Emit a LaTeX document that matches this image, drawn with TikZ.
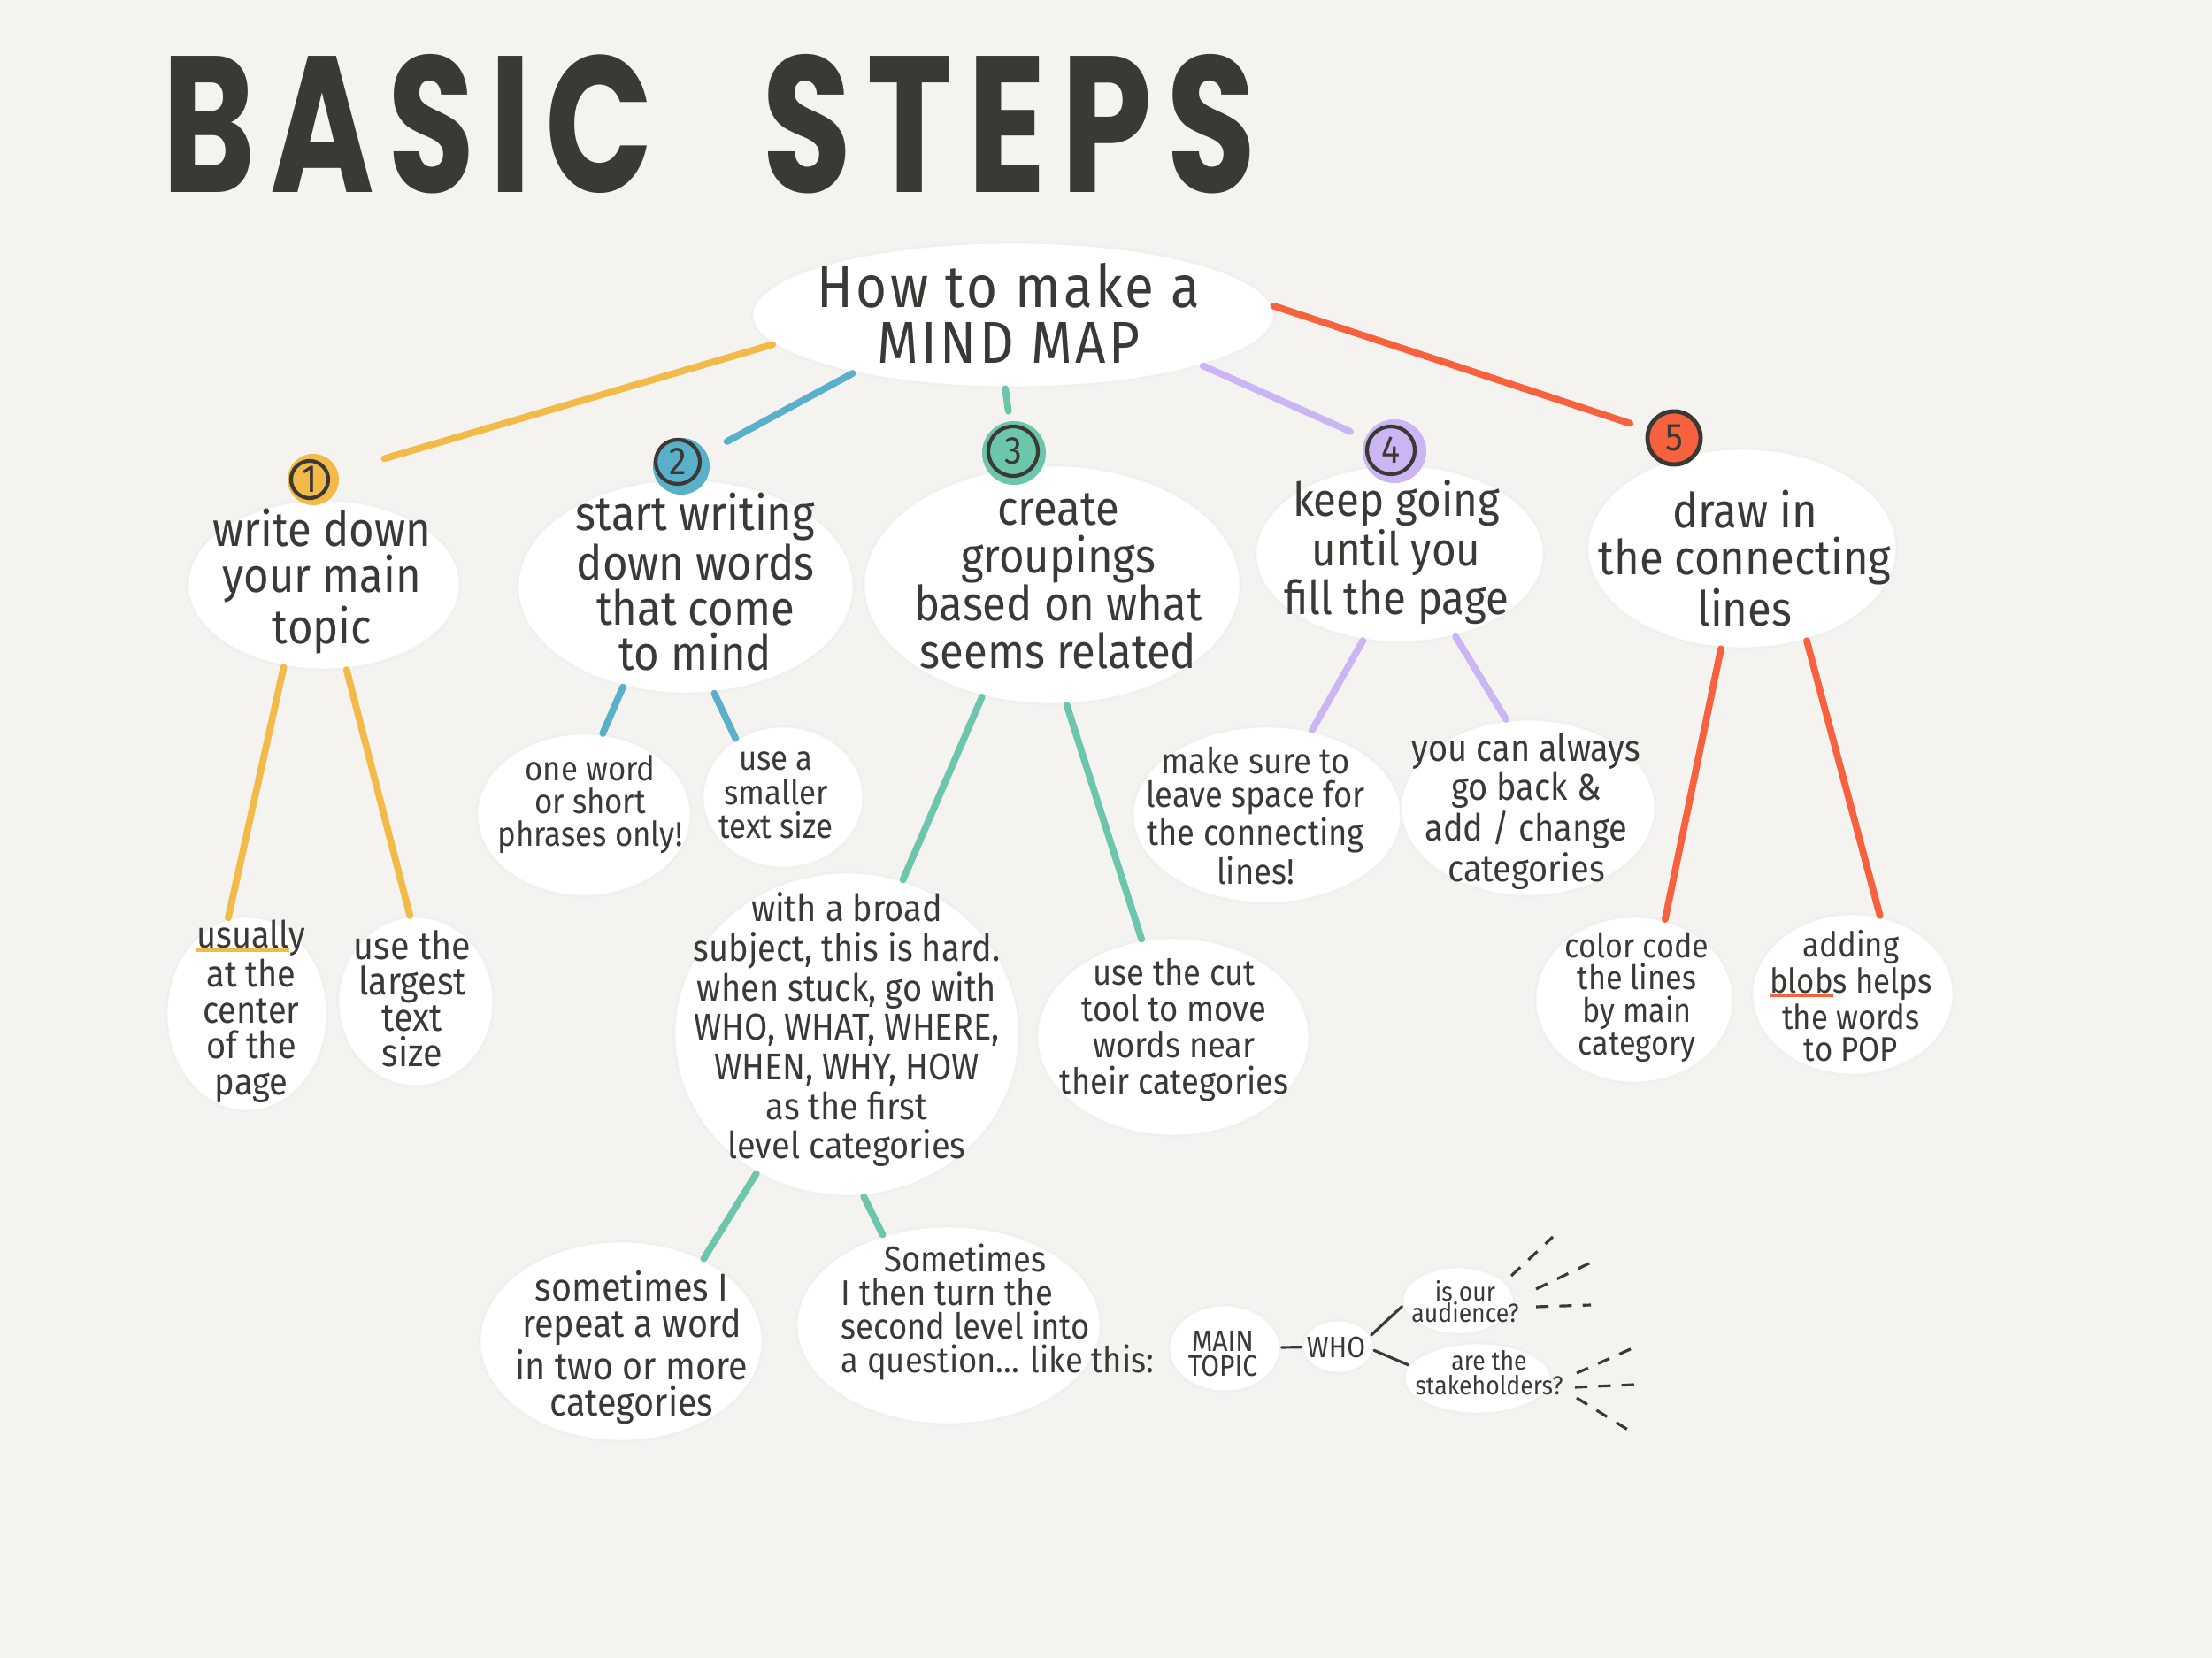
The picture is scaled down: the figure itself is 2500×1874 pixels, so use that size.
\documentclass[tikz,border=0pt]{standalone}
\usepackage{graphicx}
\usepackage{fontspec}
\setmainfont{Fira Sans}[FakeStretch=0.9]
\newfontfamily\titlefont{Poppins}[LetterSpace=10]
\newfontfamily\mainfont{Fira Sans}[FakeStretch=0.9, LetterSpace=5]
\usetikzlibrary{shapes.geometric}
\definecolor{bg}{HTML}{F4F3F0}
\definecolor{ink}{HTML}{3A3935}
\definecolor{cyel}{HTML}{F2BA48}
\definecolor{cblue}{HTML}{5AAFC9}
\definecolor{cteal}{HTML}{6CC6AC}
\definecolor{clav}{HTML}{CBB5F3}
\definecolor{cred}{HTML}{F8613D}
\newcommand\ulword[2]{\setbox0\hbox{#2}\rlap{\textcolor{#1}{\rule[-1.3pt]{\wd0}{1.2pt}}}\box0}
\newcommand\fs[2]{\fontsize{#1}{#2}\selectfont}
\tikzset{
  blob/.style={ellipse, fill=white, draw=black!6, line width=0.8pt, inner sep=0pt},
  txt/.style={align=center, text=ink, inner sep=0pt},
  conn/.style={line width=2.2pt, line cap=round},
  dot/.style={circle, inner sep=0pt},
  ring/.style={circle, draw=ink, line width=1.2pt, inner sep=0pt, text=ink, font=\fs{12.5}{12.5}},
  mini/.style={draw=ink, line width=0.9pt, line cap=round},
  ray/.style={draw=ink, line width=0.9pt, dash pattern=on 4pt off 3.5pt}
}
\begin{document}
\begin{tikzpicture}[x=0.01cm,y=-0.01cm]
\fill[bg] (0,0) rectangle (2500,1874);
\useasboundingbox (0,0) rectangle (2500,1874);

% title
\node[anchor=south west, inner sep=0, text=ink] (t1) at (183,220) {\resizebox{5.54cm}{1.56cm}{\titlefont\bfseries BASIC}};
\node[anchor=south west, inner sep=0, text=ink] (t2) at (861,220) {\resizebox{5.58cm}{1.56cm}{\titlefont\bfseries STEPS}};

% blobs
\node[blob, minimum width=5.90cm, minimum height=1.64cm] (main) at (1145,356) {};
\node[blob, minimum width=3.08cm, minimum height=1.92cm] (s1) at (366,661) {};
\node[blob, minimum width=3.80cm, minimum height=2.42cm] (s2) at (775,663) {};
\node[blob, minimum width=4.26cm, minimum height=2.70cm] (s3) at (1189,661) {};
\node[blob, minimum width=3.26cm, minimum height=2.00cm] (s4) at (1582,626) {};
\node[blob, minimum width=3.50cm, minimum height=2.26cm] (s5) at (1969,620) {};
\node[blob, minimum width=1.82cm, minimum height=2.20cm] (b1a) at (279,1146) {};
\node[blob, minimum width=1.76cm, minimum height=1.92cm] (b1b) at (470,1132) {};
\node[blob, minimum width=2.42cm, minimum height=1.84cm] (b2a) at (660,921) {};
\node[blob, minimum width=1.82cm, minimum height=1.60cm] (b2b) at (885,901) {};
\node[blob, minimum width=3.90cm, minimum height=3.66cm] (b3a) at (957,1169) {};
\node[blob, minimum width=3.08cm, minimum height=2.24cm] (b3b) at (1326,1172) {};
\node[blob, minimum width=3.04cm, minimum height=2.00cm] (b4a) at (1432,921) {};
\node[blob, minimum width=2.88cm, minimum height=2.00cm] (b4b) at (1727,913) {};
\node[blob, minimum width=2.24cm, minimum height=1.88cm] (b5a) at (1847,1130) {};
\node[blob, minimum width=2.28cm, minimum height=1.82cm] (b5b) at (2094,1124) {};
\node[blob, minimum width=3.20cm, minimum height=2.26cm] (b3a1) at (702,1516) {};
\node[blob, minimum width=3.44cm, minimum height=2.24cm] (b3a2) at (1072,1498) {};
\node[blob, minimum width=1.26cm, minimum height=0.98cm] (mt) at (1384,1524) {};
\node[blob, minimum width=0.80cm, minimum height=0.60cm] (who) at (1512,1522) {};
\node[blob, minimum width=1.26cm, minimum height=0.76cm] (aud) at (1648,1470) {};
\node[blob, minimum width=1.66cm, minimum height=0.80cm] (stk) at (1670,1558) {};

% number circles
\node[dot, fill=cyel, minimum size=0.58cm] (c1) at (354,542) {};
\node[ring, minimum size=0.42cm] (n1) at (350,542) {1};
\node[dot, fill=cblue, minimum size=0.64cm] (c2) at (770,527) {};
\node[ring, minimum size=0.50cm] (n2) at (766,522) {2};
\node[dot, fill=cteal, minimum size=0.72cm] (c3) at (1146,512) {};
\node[ring, minimum size=0.56cm] (n3) at (1145,510) {3};
\node[dot, fill=clav, minimum size=0.72cm] (c4) at (1576,510) {};
\node[ring, minimum size=0.54cm] (n4) at (1572,509) {4};
\node[dot, fill=cred, draw=ink, line width=1.4pt, minimum size=0.60cm] (c5) at (1892,495) {};
\node[txt, font=\fs{12.5}{12.5}] (n5) at (c5) {5};

% texts
\node[txt, font=\mainfont\fs{19}{18}] (tmain) at (1140,354) {How to make a\\MIND MAP};
\node[txt, font=\fs{15.5}{15}] (ts1) at (364,657) {write down\\your main\\topic};
\node[txt, font=\fs{15.5}{14.5}] (ts2) at (786,658) {start writing\\down words\\that come\\to mind};
\node[txt, font=\fs{15.5}{15.4}] (ts3) at (1196,657) {create\\groupings\\based on what\\seems related};
\node[txt, font=\fs{15}{13.5}] (ts4) at (1578,624) {keep going\\until you\\fill the page};
\node[txt, font=\fs{15.5}{15}] (ts5) at (1972,631) {draw in\\the connecting\\lines};
\node[txt, font=\fs{12}{11.5}] (t1a) at (284,1143) {\ulword{cyel}{usuall}y\\at the\\center\\of the\\page};
\node[txt, font=\fs{12.5}{11.5}] (t1b) at (466,1129) {use the\\largest\\text\\size};
\node[txt, font=\fs{11}{10.6}] (t2a) at (667,909) {one word\\or short\\phrases only!};
\node[txt, font=\fs{11}{10.9}] (t2b) at (877,899) {use a\\smaller\\text size};
\node[txt, font=\fs{12}{12.7}] (t3a) at (957,1164) {with a broad\\subject, this is hard.\\when stuck, go with\\WHO, WHAT, WHERE,\\WHEN, WHY, HOW\\as the first\\level categories};
\node[txt, font=\fs{11.5}{11.7}] (t3b) at (1327,1164) {use the cut\\tool to move\\words near\\their categories};
\node[txt, font=\fs{11.5}{10.8}] (t4a) at (1419,922) {make sure to\\leave space for\\the connecting\\lines!};
\node[txt, font=\fs{12}{11}] (t4b) at (1725,917) {you can always\\go back \&\\add / change\\categories};
\node[txt, font=\fs{10.8}{10.4}] (t5a) at (1850,1127) {color code\\the lines\\by main\\category};
\node[txt, font=\fs{11}{10.4}] (t5b) at (2092,1126) {adding\\\ulword{cred}{blob}s helps\\the words\\to POP};
\node[txt, font=\fs{12.5}{11.8}] (t3a1) at (714,1523) {sometimes I\\repeat a word\\in two or more\\categories};
\node[txt, font=\fs{11.5}{10.8}, align=left, anchor=west] (t3a2) at (950,1483) {\hspace*{1.2em}Sometimes\\I then turn the\\second level into\\a question... like this:};
\node[txt, font=\fs{9.5}{8}] (tmt) at (1382,1530) {MAIN\\TOPIC};
\node[txt, font=\fs{9.5}{9.5}] (twho) at (1510,1523) {WHO};
\node[txt, font=\fs{8.4}{7}] (taud) at (1656,1471) {is our\\audience?};
\node[txt, font=\fs{8.4}{8}] (tstk) at (1683,1552) {are the\\stakeholders?};

% main connectors
\draw[conn, cyel, shorten >=0.54cm] (main.187) -- (c1);
\draw[conn, cblue, shorten >=0.26cm] (main.200) -- (c2);
\draw[conn, cteal, shorten >=0.11cm] (main.264) -- (c3);
\draw[conn, clav, shorten >=0.18cm] (main.345) -- (c4);
\draw[conn, cred, shorten >=0.20cm] (main.2) -- (c5);

% second level connectors
\draw[conn, cyel] (s1.244) -- (b1a.101);
\draw[conn, cyel] (s1.285) -- (b1b.94);
\draw[conn, cblue] (s2.238) -- (b2a.77);
\draw[conn, cblue] (s2.285) -- (b2b.129);
\draw[conn, cteal] (s3.238) -- (b3a.70);
\draw[conn, cteal] (s3.277) -- (b3b.108);
\draw[conn, cteal] (b3a.237) -- (b3a1.45);
\draw[conn, cteal] (b3a.276) -- (b3a2.126);
\draw[conn, clav] (s4.247) -- (b4a.62);
\draw[conn, clav] (s4.304) -- (b4b.104);
\draw[conn, cred] (s5.258) -- (b5a.69);
\draw[conn, cred] (s5.305) -- (b5b.71);

% mini map
\draw[mini] (mt) -- (who);
\draw[mini] (who.19) -- (aud.186);
\draw[mini] (who.354) -- (stk.169);
\coordinate (a1s) at (1708,1442); \coordinate (a1e) at (1755,1398);
\coordinate (a2s) at (1736,1457); \coordinate (a2e) at (1798,1427);
\coordinate (a3s) at (1736,1477); \coordinate (a3e) at (1798,1475);
\coordinate (k1s) at (1782,1552); \coordinate (k1e) at (1847,1523);
\coordinate (k2s) at (1780,1568); \coordinate (k2e) at (1847,1565);
\coordinate (k3s) at (1782,1580); \coordinate (k3e) at (1843,1618);
\draw[ray] (a1s) -- (a1e);
\draw[ray] (a2s) -- (a2e);
\draw[ray] (a3s) -- (a3e);
\draw[ray] (k1s) -- (k1e);
\draw[ray] (k2s) -- (k2e);
\draw[ray] (k3s) -- (k3e);
\end{tikzpicture}
\end{document}
